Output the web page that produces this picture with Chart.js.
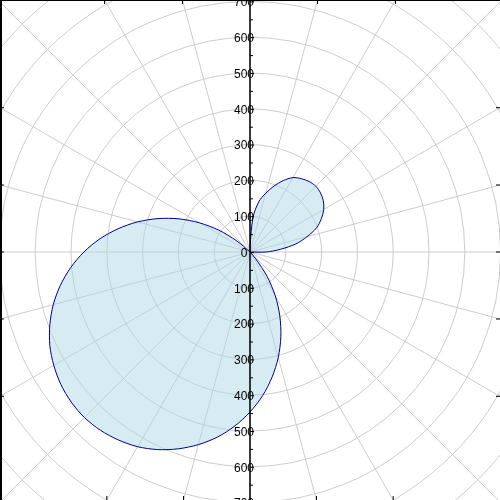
<!DOCTYPE html>
<html>
<head>
<meta charset="utf-8">
<script src="https://cdn.jsdelivr.net/npm/chart.js@4"></script>
<style>
  html, body { margin: 0; padding: 0; background: #fff; }
  #frame { position: relative; width: 500px; height: 500px; overflow: hidden; }
  #polarChart { position: absolute; left: -108px; top: -106px; }
</style>
</head>
<body>
<div id="frame"><canvas id="polarChart" width="716" height="716"></canvas></div>
<script>
// angle in degrees, counter-clockwise from the right
const angles = [
    0, 5, 10, 15, 20, 25, 30, 35, 40, 45, 50, 55,
    60, 65, 70, 75, 80, 85, 90, 95, 100, 105, 110, 115,
    120, 125, 130, 135, 140, 145, 150, 155, 160, 165, 170, 175,
    180, 185, 190, 195, 200, 205, 210, 215, 220, 225, 230, 235,
    240, 245, 250, 255, 260, 265, 270, 275, 280, 285, 290, 295,
    300, 305, 310, 315, 320, 325, 330, 335, 340, 345, 350, 355
]
const radius = [
    45, 85, 130, 165, 198, 220, 238, 250, 257, 260, 257, 250,
    240, 220, 196, 170, 143, 98, 15, 0, 0, 0, 0, 0,
    0, 0, 0, 0, 48, 106, 163, 219, 273, 325, 374, 421,
    464, 503, 538, 569, 595, 617, 633, 645, 652, 654, 650, 641,
    628, 609, 585, 557, 525, 488, 447, 403, 355, 305, 252, 197,
    141, 83, 25, 0, 0, 0, 0, 0, 0, 0, 0, 0
]
const radialTicks = [0, 100, 200, 300, 400, 500, 600, 700]

// radar goes clockwise from the top, so reorder the values
const labels = []
const values = []
for (let i = 0; i < angles.length; i++) {
    const a = (90 - i * 5 + 360) % 360
    const j = angles.indexOf(a)
    labels.push(a + "°")
    values.push(radius[j])
}

const axisPlugin = {
    id: "axisPlugin",
    afterDraw(chart) {
        const r = chart.scales.r
        const ctx = chart.ctx
        const cx = r.xCenter
        const cy = r.yCenter
        const left = cx - 250, top = cy - 252
        const right = left + 500, bottom = top + 500

        ctx.save()
        ctx.fillStyle = "#000"
        ctx.strokeStyle = "#000"

        // frame
        ctx.fillRect(left, top, 2, 500)
        ctx.fillRect(left, top, 500, 1)

        // vertical axis
        ctx.lineWidth = 1.5
        ctx.beginPath()
        ctx.moveTo(cx, top)
        ctx.lineTo(cx, bottom)
        ctx.stroke()

        // ticks on the axis
        ctx.lineWidth = 1
        for (let v = 0; v <= 700; v += 50) {
            const d = r.getDistanceFromCenterForValue(v)
            const len = v % 100 === 0 ? 4 : 3
            for (const s of [-1, 1]) {
                ctx.beginPath()
                ctx.moveTo(cx, cy + s * d + 0.5)
                ctx.lineTo(cx + len, cy + s * d + 0.5)
                ctx.stroke()
            }
        }

        // tick labels, above and below the centre
        ctx.font = "12px 'Liberation Sans'"
        ctx.textAlign = "center"
        ctx.textBaseline = "middle"
        radialTicks.forEach(v => {
            const d = r.getDistanceFromCenterForValue(v)
            ctx.fillText(String(v), cx - 6, cy - d + 1.5)
            if (v > 0) ctx.fillText(String(v), cx - 6, cy + d + 1.5)
        })

        // small ticks where the angle lines meet the frame
        for (let a = 0; a < 360; a += 15) {
            if (a % 90 === 45 || a === 90 || a === 270) continue
            const rad = a * Math.PI / 180
            const dx = Math.cos(rad), dy = -Math.sin(rad)
            const tx = Math.abs(dx) < 1e-9 ? Infinity : (dx > 0 ? right - cx : left - cx) / dx
            const ty = Math.abs(dy) < 1e-9 ? Infinity : (dy > 0 ? bottom - cy : top - cy) / dy
            ctx.beginPath()
            if (tx < ty) {
                const py = cy + tx * dy
                const px = dx > 0 ? right : left
                ctx.moveTo(px, py)
                ctx.lineTo(px - Math.sign(dx) * 4, py)
            } else {
                const px = cx + ty * dx
                const py = dy > 0 ? bottom : top
                ctx.moveTo(px, py)
                ctx.lineTo(px, py - Math.sign(dy) * 4)
            }
            ctx.stroke()
        }
        ctx.restore()
    }
}

const polarChart = new Chart(
    document.getElementById("polarChart"),
    {
        type: "radar",
        data: {
            labels: labels,
            datasets: [{
                data: values,
                borderColor: "#00008b",
                backgroundColor: "rgba(173,216,230,0.5)",
                borderWidth: 1,
                pointRadius: 0,
                tension: 0.3,
                fill: true
            }]
        },
        options: {
            responsive: false,
            animation: false,
            plugins: {
                legend: { display: false },
                tooltip: { enabled: false }
            },
            scales: {
                r: {
                    min: 0,
                    max: 1000,
                    ticks: { display: false, stepSize: 100 },
                    pointLabels: { display: false },
                    grid: { circular: true, color: "#cccccc", lineWidth: 1 },
                    angleLines: {
                        color: "#cccccc",
                        lineWidth: ctx => ctx.index % 3 === 0 ? 1 : 0
                    }
                }
            }
        },
        plugins: [axisPlugin]
    }
)
</script>
</body>
</html>
